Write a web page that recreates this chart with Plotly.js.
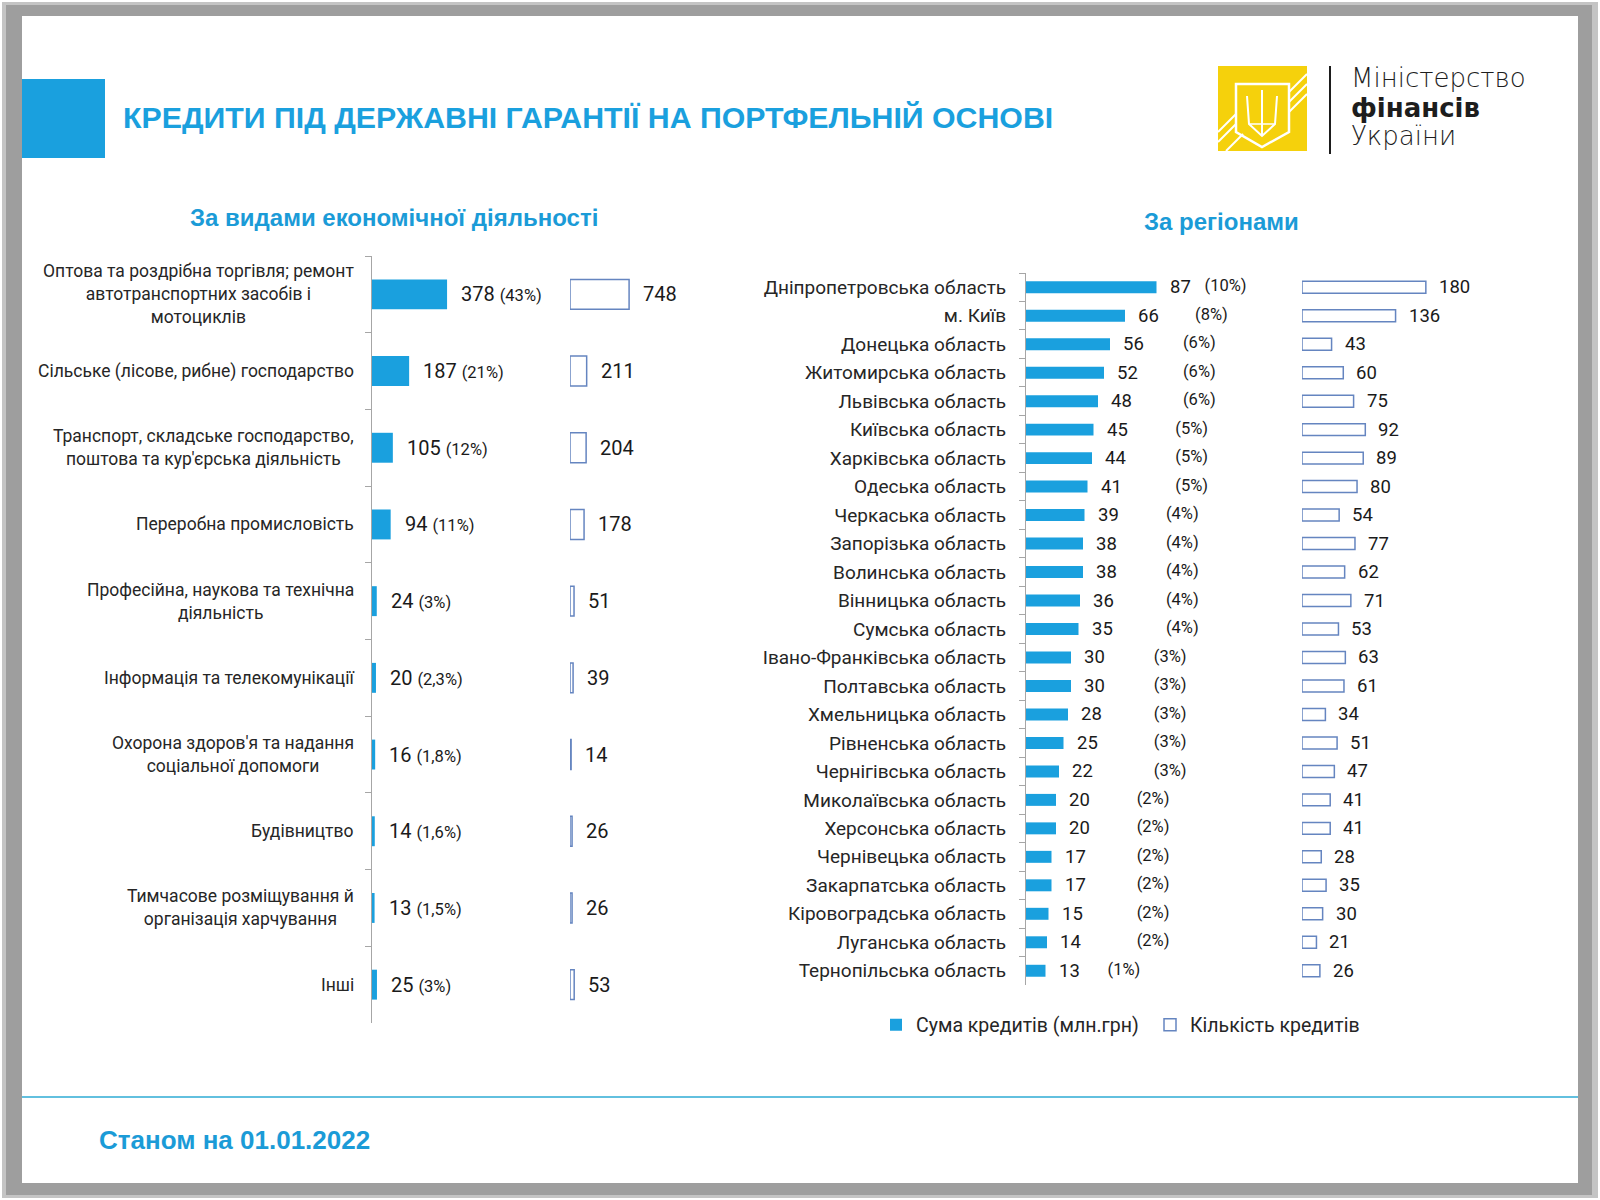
<!DOCTYPE html>
<html>
<head>
<meta charset="utf-8">
<script src="https://cdn.plot.ly/plotly-3.0.1.min.js"></script>
<style>html,body{margin:0;padding:0;background:#fff;}#chart{width:1600px;height:1200px;}</style>
</head>
<body>
<div id="chart"></div>
<script>
// ---- DATA: by economic activity ----
const activityCategories = [
  "Оптова та роздрібна торгівля; ремонт<br>автотранспортних засобів і<br>мотоциклів",
  "Сільське (лісове, рибне) господарство",
  "Транспорт, складське господарство,<br>поштова та кур'єрська діяльність",
  "Переробна промисловість",
  "Професійна, наукова та технічна<br>діяльність",
  "Інформація та телекомунікації",
  "Охорона здоров'я та надання<br>соціальної допомоги",
  "Будівництво",
  "Тимчасове розміщування й<br>організація харчування",
  "Інші"
];
const activityAmount = [378, 187, 105, 94, 24, 20, 16, 14, 13, 25];
const activityShare = ["43%", "21%", "12%", "11%", "3%", "2,3%", "1,8%", "1,6%", "1,5%", "3%"];
const activityCount = [748, 211, 204, 178, 51, 39, 14, 26, 26, 53];

// ---- DATA: by region ----
const regionCategories = [
  "Дніпропетровська область", "м. Київ", "Донецька область", "Житомирська область",
  "Львівська область", "Київська область", "Харківська область", "Одеська область",
  "Черкаська область", "Запорізька область", "Волинська область", "Вінницька область",
  "Сумська область", "Івано-Франківська область", "Полтавська область", "Хмельницька область",
  "Рівненська область", "Чернігівська область", "Миколаївська область", "Херсонська область",
  "Чернівецька область", "Закарпатська область", "Кіровоградська область", "Луганська область",
  "Тернопільська область"
];
const regionAmount = [87, 66, 56, 52, 48, 45, 44, 41, 39, 38, 38, 36, 35, 30, 30, 28, 25, 22, 20, 20, 17, 17, 15, 14, 13];
const regionShare = [10, 8, 6, 6, 6, 5, 5, 5, 4, 4, 4, 4, 4, 3, 3, 3, 3, 3, 2, 2, 2, 2, 2, 2, 1];
const regionCount = [180, 136, 43, 60, 75, 92, 89, 80, 54, 77, 62, 71, 53, 63, 61, 34, 51, 47, 41, 41, 28, 35, 30, 21, 26];

const seriesNames = ["Сума кредитів (млн.грн)", "Кількість кредитів"];
const texts = {
  title: "КРЕДИТИ ПІД ДЕРЖАВНІ ГАРАНТІЇ НА ПОРТФЕЛЬНІЙ ОСНОВІ",
  leftTitle: "За видами економічної діяльності",
  rightTitle: "За регіонами",
  footer: "Станом на 01.01.2022",
  logo: ["Міністерство", "фінансів", "України"]
};

// ---- helpers (pixel -> paper) ----
const W = 1600, H = 1200;
const px = v => v / W;
const py = v => 1 - v / H;
const path = pts => pts.map((p, i) => (i ? "L" : "M") + px(p[0]) + "," + py(p[1])).join(" ");

const BLUE = "#1aa0de";
const TEXTBLUE = "#1b9bd7";
const OUTLINE = "#6585c0";
const LABEL = "#262626";
const F = "Roboto, 'Noto Sans', sans-serif";
const FD = "'DejaVu Sans', 'Open Sans', sans-serif";
const FA = "'Liberation Sans', Arial, sans-serif";

const traces = [
  {type: "bar", orientation: "h", x: activityAmount, y: activityCategories, xaxis: "x", yaxis: "y",
   marker: {color: BLUE}, width: 0.39, name: seriesNames[0], showlegend: false, hoverinfo: "x+y"},
  {type: "bar", orientation: "h", x: activityCount, y: activityCategories, xaxis: "x2", yaxis: "y",
   marker: {color: "#ffffff", line: {color: OUTLINE, width: 1.5}}, width: 0.39, name: seriesNames[1], showlegend: false},
  {type: "bar", orientation: "h", x: regionAmount, y: regionCategories, xaxis: "x3", yaxis: "y2",
   marker: {color: BLUE}, width: 0.42, name: seriesNames[0], showlegend: true},
  {type: "bar", orientation: "h", x: regionCount, y: regionCategories, xaxis: "x4", yaxis: "y2",
   marker: {color: "#ffffff", line: {color: OUTLINE, width: 1.5}}, width: 0.42, name: seriesNames[1], showlegend: true},
  {type: "scatter", mode: "text", x: regionShare, y: regionCategories, xaxis: "x5", yaxis: "y2",
   text: regionShare.map(p => "(" + p + "%)"), textposition: "middle right",
   textfont: {family: F, size: 16.5, color: "#1a1a1a"}, showlegend: false, hoverinfo: "skip", cliponaxis: false}
];

const annotations = [];
// left category labels (centered multi-line, right-aligned block)
activityCategories.forEach((c, i) => {
  annotations.push({xref: "paper", yref: "y", x: px(356), y: c, xanchor: "right", yanchor: "middle",
    align: "center", text: c, showarrow: false, font: {family: F, size: 17.5, color: LABEL}});
  annotations.push({xref: "x", yref: "y", x: activityAmount[i], y: c, xanchor: "left", yanchor: "middle",
    xshift: 12, showarrow: false, text: activityAmount[i] + ' <span style="font-size:16.5px">(' + activityShare[i] + ')</span>',
    font: {family: F, size: 20, color: "#1a1a1a"}});
  annotations.push({xref: "x2", yref: "y", x: activityCount[i], y: c, xanchor: "left", yanchor: "middle",
    xshift: 12, showarrow: false, text: String(activityCount[i]), font: {family: F, size: 20, color: "#1a1a1a"}});
});
regionCategories.forEach((c, i) => {
  annotations.push({xref: "x3", yref: "y2", x: regionAmount[i], y: c, xanchor: "left", yanchor: "middle",
    xshift: 11, showarrow: false, text: String(regionAmount[i]), font: {family: F, size: 18.5, color: "#1a1a1a"}});
  annotations.push({xref: "x4", yref: "y2", x: regionCount[i], y: c, xanchor: "left", yanchor: "middle",
    xshift: 11, showarrow: false, text: String(regionCount[i]), font: {family: F, size: 18.5, color: "#1a1a1a"}});
});
// section titles, footer, logo text
annotations.push({xref: "paper", yref: "paper", x: px(394), y: py(217), xanchor: "center", yanchor: "middle",
  text: texts.leftTitle, showarrow: false, font: {family: FA, size: 24, color: TEXTBLUE, weight: "bold"}});
annotations.push({xref: "paper", yref: "paper", x: px(1221), y: py(221), xanchor: "center", yanchor: "middle",
  text: texts.rightTitle, showarrow: false, font: {family: FA, size: 24, color: TEXTBLUE, weight: "bold"}});
annotations.push({xref: "paper", yref: "paper", x: px(97), y: py(1140), xanchor: "left", yanchor: "middle",
  text: texts.footer, showarrow: false, font: {family: FA, size: 26, color: TEXTBLUE, weight: "bold"}});
[[78, 200], [108, 700], [136, 200]].forEach((p, i) => {
  annotations.push({xref: "paper", yref: "paper", x: px(1349), y: py(p[0]), xanchor: "left", yanchor: "middle",
    text: texts.logo[i], showarrow: false, font: {family: FD, size: 26, color: "#1d1d1d", weight: p[1]}});
});

const shapes = [
  // slide frame with shadow
  {type: "rect", xref: "paper", yref: "paper", x0: px(2), x1: px(1598), y0: py(2), y1: py(1198), fillcolor: "#c4c4c4", line: {width: 0}, layer: "below"},
  {type: "rect", xref: "paper", yref: "paper", x0: px(6), x1: px(1592), y0: py(5), y1: py(1195), fillcolor: "#9e9e9e", line: {width: 0}, layer: "below"},
  {type: "rect", xref: "paper", yref: "paper", x0: px(22), x1: px(1578), y0: py(16), y1: py(1183), fillcolor: "#ffffff", line: {width: 0}, layer: "below"},
  // header blue block
  {type: "rect", xref: "paper", yref: "paper", x0: px(22), x1: px(105), y0: py(79), y1: py(158), fillcolor: BLUE, line: {width: 0}},
  // footer line
  {type: "line", xref: "paper", yref: "paper", x0: px(22), x1: px(1578), y0: py(1097), y1: py(1097), line: {color: "#62c0df", width: 2}},
  // logo
  {type: "rect", xref: "paper", yref: "paper", x0: px(1218), x1: px(1307), y0: py(66), y1: py(151), fillcolor: "#f5d10c", line: {width: 0}},
  {type: "line", xref: "paper", yref: "paper", x0: px(1330), x1: px(1330), y0: py(66), y1: py(154), line: {color: "#1d1d1d", width: 2}},
  {type: "path", xref: "paper", yref: "paper", path: path([[1236, 84], [1289, 84], [1289, 132], [1262, 147], [1236, 132]]) + " Z", line: {color: "#ffffff", width: 2.5}},
  {type: "path", xref: "paper", yref: "paper", path: path([[1262, 90], [1262, 136]]), line: {color: "#ffffff", width: 2}},
  {type: "path", xref: "paper", yref: "paper", path: path([[1247, 96], [1249, 124], [1262, 136], [1275, 124], [1277, 96]]), line: {color: "#ffffff", width: 2}},
  {type: "path", xref: "paper", yref: "paper", path: path([[1249, 124], [1275, 124]]), line: {color: "#ffffff", width: 1.5}},
  {type: "path", xref: "paper", yref: "paper", path: path([[1289, 92], [1307, 74]]), line: {color: "#ffffff", width: 2}},
  {type: "path", xref: "paper", yref: "paper", path: path([[1289, 102], [1307, 84]]), line: {color: "#ffffff", width: 2}},
  {type: "path", xref: "paper", yref: "paper", path: path([[1289, 112], [1307, 94]]), line: {color: "#ffffff", width: 2}},
  {type: "path", xref: "paper", yref: "paper", path: path([[1218, 142], [1236, 124]]), line: {color: "#ffffff", width: 2}},
  {type: "path", xref: "paper", yref: "paper", path: path([[1218, 132], [1236, 114]]), line: {color: "#ffffff", width: 2}},
  {type: "path", xref: "paper", yref: "paper", path: path([[1226, 151], [1243, 134]]), line: {color: "#ffffff", width: 2}}
];

const hidden = {visible: false, showgrid: false, zeroline: false, fixedrange: true};
const catAxis = {type: "category", showgrid: false, zeroline: false,
  showline: true, linecolor: "#a6a6a6", linewidth: 1, ticks: "outside", ticklen: 6, tickcolor: "#a6a6a6",
  tickson: "boundaries", fixedrange: true};

const layout = {
  width: W, height: H,
  margin: {l: 0, r: 0, t: 0, b: 0},
  paper_bgcolor: "#ffffff", plot_bgcolor: "rgba(0,0,0,0)",
  barmode: "overlay",
  title: {text: texts.title, x: px(123), xanchor: "left", xref: "paper", y: py(117), yanchor: "middle", yref: "paper",
    font: {family: FA, size: 30.3, color: BLUE, weight: "bold"}},
  xaxis: Object.assign({}, hidden, {domain: [px(372), px(560)], range: [0, (560 - 372) / 0.1986], anchor: "y"}),
  xaxis2: Object.assign({}, hidden, {domain: [px(570), px(790)], range: [0, (790 - 570) / 0.079], anchor: "y"}),
  xaxis3: Object.assign({}, hidden, {domain: [px(1026), px(1260)], range: [0, 234 / 1.5], anchor: "y2"}),
  xaxis4: Object.assign({}, hidden, {domain: [px(1302), px(1570)], range: [0, 268 / 0.688], anchor: "y2"}),
  xaxis5: Object.assign({}, hidden, {type: "log", domain: [px(1026), px(1260)], range: [-0.84, 1.572], anchor: "y2"}),
  yaxis: Object.assign({}, catAxis, {domain: [py(1023), py(256)], anchor: "x", showticklabels: false,
    range: [activityCategories.length - 0.5, -0.5]}),
  yaxis2: Object.assign({}, catAxis, {domain: [py(985), py(273)], anchor: "x3", showticklabels: true,
    range: [regionCategories.length - 0.5, -0.5],
    tickfont: {family: F, size: 19, color: LABEL}, ticklabelstandoff: 15}),
  legend: {orientation: "h", x: px(876), xanchor: "left", y: py(1025), yanchor: "middle",
    entrywidth: 229, entrywidthmode: "pixels",
    font: {family: F, size: 19.5, color: LABEL}, bgcolor: "rgba(0,0,0,0)", itemclick: false, itemdoubleclick: false},
  annotations: annotations,
  shapes: shapes,
  showlegend: true
};

Plotly.newPlot("chart", traces, layout, {displayModeBar: false, staticPlot: true});
</script>
</body>
</html>
